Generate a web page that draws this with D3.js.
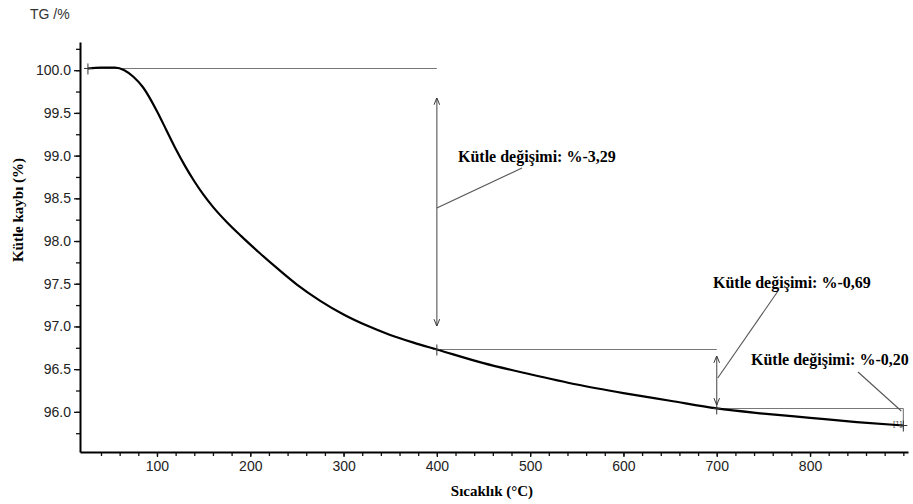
<!DOCTYPE html>
<html>
<head>
<meta charset="utf-8">
<script src="https://cdn.jsdelivr.net/npm/d3@7"></script>
<style>
  body { margin: 0; background: #fff; }
  .tick text { font-family: Arial, "Liberation Sans", sans-serif; font-size: 14px; fill: #222; }
  .note { font-family: "Liberation Serif", "Times New Roman", serif; font-weight: bold; font-size: 16px; fill: #000; }
  .axlabel { font-family: "Liberation Serif", "Times New Roman", serif; font-weight: bold; font-size: 15px; fill: #000; }
</style>
</head>
<body>
<script>
// temperature (°C) and mass (%)
const temps = [26, 40, 55, 65, 75, 85, 100, 110, 120, 130, 140, 150, 160, 175, 190, 210, 230, 250, 275, 300, 325, 350, 375, 400, 450, 500, 550, 600, 650, 700, 750, 800, 850, 900];
const mass = [100.02, 100.03, 100.03, 100.00, 99.92, 99.80, 99.52, 99.30, 99.08, 98.88, 98.70, 98.54, 98.40, 98.22, 98.06, 97.86, 97.67, 97.49, 97.30, 97.14, 97.01, 96.90, 96.81, 96.73, 96.57, 96.44, 96.32, 96.22, 96.13, 96.04, 95.98, 95.93, 95.88, 95.84];

// mass change steps
const stepFrom = [26, 400, 700];
const stepTo = [400, 700, 900];
const stepStart = [100.02, 96.73, 96.04];
const stepEnd = [96.73, 96.04, 95.84];
const stepLabels = ["Kütle değişimi: %-3,29", "Kütle değişimi: %-0,69", "Kütle değişimi: %-0,20"];

const xTicks = [100, 200, 300, 400, 500, 600, 700, 800];
const yTicks = [96.0, 96.5, 97.0, 97.5, 98.0, 98.5, 99.0, 99.5, 100.0];

const W = 913, H = 504;
const svg = d3.select('body').append('svg')
    .attr('width', W)
    .attr('height', H);

const x = d3.scaleLinear().domain([17.5, 905]).range([80, 908]);
const y = d3.scaleLinear().domain([95.53, 100.33]).range([452, 42]);

// minor ticks
svg.append('g')
    .attr('transform', 'translate(0,452)')
    .call(d3.axisBottom(x).tickValues(d3.range(40, 901, 20)).tickSize(4).tickFormat(''))
    .call(g => g.select('.domain').remove())
    .selectAll('line').attr('stroke', '#111').attr('stroke-width', 1.3);

svg.append('g')
    .attr('transform', 'translate(80,0)')
    .call(d3.axisLeft(y).tickValues(d3.range(95.75, 100.3, 0.25)).tickSize(4).tickFormat(''))
    .call(g => g.select('.domain').remove())
    .selectAll('line').attr('stroke', '#111').attr('stroke-width', 1.3);

// major ticks with labels
const gx = svg.append('g')
    .attr('transform', 'translate(0,452)')
    .call(d3.axisBottom(x).tickValues(xTicks).tickSize(5).tickPadding(4).tickSizeOuter(0));
gx.select('.domain').attr('stroke', '#000').attr('stroke-width', 2);
gx.selectAll('line').attr('stroke', '#111').attr('stroke-width', 1.3);

const gy = svg.append('g')
    .attr('transform', 'translate(80,0)')
    .call(d3.axisLeft(y).tickValues(yTicks).tickSize(6).tickPadding(3).tickSizeOuter(0).tickFormat(d3.format('.1f')));
gy.select('.domain').attr('stroke', '#000').attr('stroke-width', 2);
gy.selectAll('line').attr('stroke', '#111').attr('stroke-width', 1.3);

// titles
svg.append('text')
    .attr('x', 30).attr('y', 19)
    .style('font-family', 'Arial, "Liberation Sans", sans-serif')
    .style('font-size', '14px').style('fill', '#333')
    .text('TG /%');

svg.append('text')
    .attr('class', 'axlabel')
    .attr('transform', 'translate(23,210) rotate(-90)')
    .attr('text-anchor', 'middle')
    .text('Kütle kaybı (%)');

svg.append('text')
    .attr('class', 'axlabel')
    .attr('x', 492).attr('y', 496)
    .attr('text-anchor', 'middle')
    .text('Sıcaklık (°C)');

// arrow markers
const defs = svg.append('defs');
defs.append('marker')
    .attr('id', 'arr')
    .attr('viewBox', '0 0 10 10')
    .attr('refX', 9).attr('refY', 5)
    .attr('markerWidth', 7).attr('markerHeight', 7)
    .attr('orient', 'auto-start-reverse')
    .attr('markerUnits', 'userSpaceOnUse')
    .append('path')
    .attr('d', 'M0,1 L10,5 L0,9')
    .attr('fill', 'none')
    .attr('stroke', '#333')
    .attr('stroke-width', 1.4);

const ann = svg.append('g').attr('stroke', '#777').attr('stroke-width', 1.1).attr('fill', 'none');

// reference levels
stepFrom.forEach((t, i) => {
    ann.append('line')
        .attr('x1', x(t)).attr('x2', x(stepTo[i]))
        .attr('y1', y(stepStart[i])).attr('y2', y(stepStart[i]));
});
// small box at the end
ann.append('line')
    .attr('x1', x(stepTo[2])).attr('x2', x(stepTo[2]))
    .attr('y1', y(stepStart[2])).attr('y2', y(stepEnd[2]) + 3);

// double arrows
ann.append('line')
    .attr('x1', x(400)).attr('x2', x(400))
    .attr('y1', y(stepStart[0]) + 30).attr('y2', y(stepEnd[0]) - 24)
    .attr('stroke', '#555')
    .attr('marker-start', 'url(#arr)').attr('marker-end', 'url(#arr)');
ann.append('line')
    .attr('x1', x(700)).attr('x2', x(700))
    .attr('y1', y(stepStart[1]) + 7).attr('y2', y(stepEnd[1]) - 4)
    .attr('stroke', '#555')
    .attr('marker-start', 'url(#arr)').attr('marker-end', 'url(#arr)');

// leader lines
ann.append('line').attr('x1', x(400)).attr('y1', 208).attr('x2', 522).attr('y2', 168).attr('stroke', '#555');
ann.append('line').attr('x1', x(700) + 1).attr('y1', 378).attr('x2', 778).attr('y2', 291).attr('stroke', '#555');
ann.append('line').attr('x1', 858).attr('y1', 372).attr('x2', x(stepTo[2]) - 2).attr('y2', 411).attr('stroke', '#555');

// labels
svg.append('text').attr('class', 'note').attr('x', 458).attr('y', 162).text(stepLabels[0]);
svg.append('text').attr('class', 'note').attr('x', 713).attr('y', 288).text(stepLabels[1]);
svg.append('text').attr('class', 'note').attr('x', 751).attr('y', 365).text(stepLabels[2]);

svg.append('text')
    .attr('x', 893).attr('y', 426)
    .style('font-family', 'Arial, sans-serif').style('font-size', '8px').style('fill', '#444')
    .text('[1]');

// TG curve
const line = d3.line()
    .x((d, i) => x(temps[i]))
    .y(d => y(d))
    .curve(d3.curveMonotoneX);

svg.append('path')
    .datum(mass)
    .attr('d', line)
    .attr('fill', 'none')
    .attr('stroke', '#000')
    .attr('stroke-width', 2.2);

// cross markers at step points
const crossT = [26, 400, 700, 900];
const crossV = [100.02, 96.73, 96.04, 95.84];
svg.append('g').selectAll('path')
    .data(crossT)
    .join('path')
    .attr('d', (d, i) => {
        const cx = x(d), cy = y(crossV[i]);
        return `M${cx - 4},${cy}H${cx + 4}M${cx},${cy - 5}V${cy + 6}`;
    })
    .attr('stroke', '#333')
    .attr('stroke-width', 1);
</script>
</body>
</html>
